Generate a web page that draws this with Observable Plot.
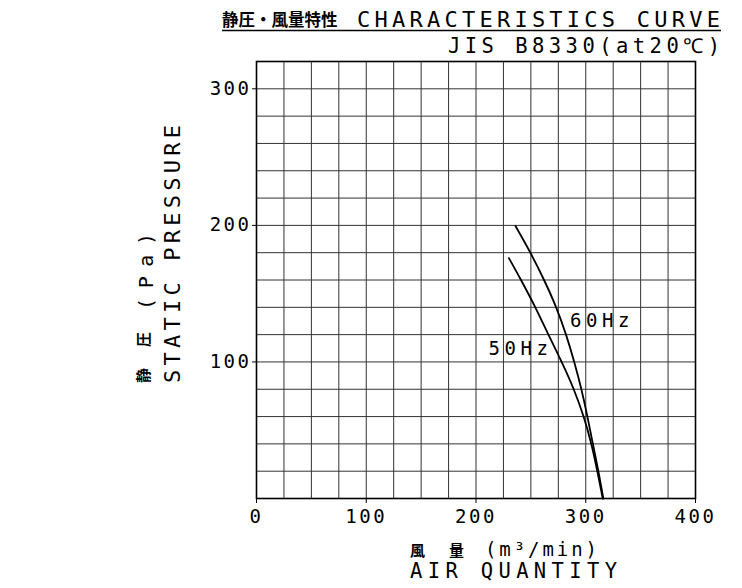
<!DOCTYPE html>
<html>
<head>
<meta charset="utf-8">
<script src="https://cdn.jsdelivr.net/npm/d3@7"></script>
<script src="https://cdn.jsdelivr.net/npm/@observablehq/plot@0.6"></script>
<style>
  html, body { margin: 0; padding: 0; background: white; }
</style>
</head>
<body>
<div id="chart"></div>
<script>
// ---- data ----
const q60 = [236, 249.5, 262, 273, 282, 289.5, 296, 301.5, 306.5, 311.5, 316];
const p60 = [199.5, 180, 160, 140, 120, 100, 80, 60, 40, 20, 0];
const q50 = [230, 241, 254, 266, 278, 289, 298, 305, 310.5, 315.5];
const p50 = [176, 160, 140, 120, 100, 80, 60, 40, 20, 0];

const labelText = ["60Hz", "50Hz"];
const labelQ = [314.8, 240.5];
const labelP = [130, 109.4];

const xTicks = [0, 100, 200, 300, 400];
const yTicks = [100, 200, 300];
const xGrid = d3.range(25, 400, 25);
const yGrid = d3.range(20, 320, 20);

const titleJa = "静圧・風量特性";
const titleEn = "CHARACTERISTICS CURVE";
const subTitle = "JIS B8330(at20℃)";
const yLabelJa = ["静", "圧"];
const yLabelUnit = "(Pa)";
const yLabelEn = "STATIC PRESSURE";
const xLabelJa = ["風", "量"];
const xLabelUnit = "(m³/min)";
const xLabelEn = "AIR QUANTITY";

// ---- build tables ----
const curve60 = q60.map((q, i) => ({q, p: p60[i]}));
const curve50 = q50.map((q, i) => ({q, p: p50[i]}));
const labels = labelText.map((t, i) => ({t, q: labelQ[i], p: labelP[i]}));

const MONO = "'DejaVu Sans Mono', monospace";
const CJK = "'Noto Sans CJK JP', sans-serif";

const chart = Plot.plot({
  width: 742,
  height: 588,
  marginLeft: 256,
  marginRight: 47,
  marginTop: 61,
  marginBottom: 90,
  style: {fontFamily: MONO, fontSize: "19px", color: "black", background: "white", letterSpacing: "2.5px"},
  x: {domain: [0, 400], ticks: xTicks, tickSize: 5, tickPadding: 6, label: null},
  y: {domain: [0, 320], ticks: yTicks, tickSize: 4, tickPadding: 1, label: null},
  marks: [
    Plot.ruleX(xGrid, {stroke: "#333", strokeWidth: 1}),
    Plot.ruleY(yGrid, {stroke: "#333", strokeWidth: 1}),
    Plot.frame({stroke: "black", strokeWidth: 1.6}),
    Plot.axisX({ticks: xTicks, tickSize: 5, tickPadding: 6, label: null}),
    Plot.axisY({ticks: yTicks, tickSize: 4, tickPadding: 1, label: null}),
    Plot.line(curve60, {x: "q", y: "p", curve: "natural", stroke: "black", strokeWidth: 1.8}),
    Plot.line(curve50, {x: "q", y: "p", curve: "natural", stroke: "black", strokeWidth: 1.8}),
    Plot.text(labels, {x: "q", y: "p", text: "t", fill: "black", fontSize: 19, className: "hzlabel"})
  ]
});

document.getElementById("chart").append(chart);

const svg = d3.select(chart);

// wider spacing + white boxes behind the Hz labels
svg.selectAll("g.hzlabel text").style("letter-spacing", "4.5px").each(function () {
  const b = this.getBBox();
  d3.select(this.parentNode).insert("rect", () => this)
    .attr("x", b.x - 4).attr("y", b.y - 1)
    .attr("width", b.width + 4).attr("height", b.height + 2)
    .attr("fill", "white");
});

// title
const g = svg.append("g").attr("fill", "black")
  .attr("text-anchor", "start").style("letter-spacing", "0px");
g.append("text").attr("x", 222).attr("y", 26)
  .attr("font-family", CJK).attr("font-weight", "bold").attr("font-size", 16.5)
  .text(titleJa);
g.append("text").attr("x", 357).attr("y", 27)
  .attr("font-family", MONO).attr("font-size", 22)
  .attr("textLength", 363).attr("lengthAdjust", "spacing")
  .text(titleEn);
g.append("line").attr("x1", 222).attr("x2", 721).attr("y1", 30.5).attr("y2", 30.5)
  .attr("stroke", "black").attr("stroke-width", 1.3);
g.append("text").attr("x", 448).attr("y", 53)
  .attr("font-family", MONO).attr("font-size", 20.5)
  .attr("textLength", 272).attr("lengthAdjust", "spacing")
  .text(subTitle);

// y label (rotated)
const gy = g.append("g").attr("transform", "translate(0,383) rotate(-90)");
gy.append("text").attr("x", 0).attr("y", 149)
  .attr("font-family", CJK).attr("font-weight", "bold").attr("font-size", 15)
  .text(yLabelJa[0]);
gy.append("text").attr("x", 36).attr("y", 149)
  .attr("font-family", CJK).attr("font-weight", "bold").attr("font-size", 15)
  .text(yLabelJa[1]);
gy.append("text").attr("x", 73).attr("y", 153)
  .attr("font-family", MONO).attr("font-size", 20)
  .attr("textLength", 77).attr("lengthAdjust", "spacing")
  .text(yLabelUnit);
gy.append("text").attr("x", 0).attr("y", 180)
  .attr("font-family", MONO).attr("font-size", 22)
  .attr("textLength", 258).attr("lengthAdjust", "spacing")
  .text(yLabelEn);

// x label
g.append("text").attr("x", 410).attr("y", 556)
  .attr("font-family", CJK).attr("font-weight", "bold").attr("font-size", 15)
  .text(xLabelJa[0]);
g.append("text").attr("x", 449).attr("y", 556)
  .attr("font-family", CJK).attr("font-weight", "bold").attr("font-size", 15)
  .text(xLabelJa[1]);
g.append("text").attr("x", 485).attr("y", 556)
  .attr("font-family", MONO).attr("font-size", 19)
  .attr("textLength", 112).attr("lengthAdjust", "spacing")
  .text(xLabelUnit);
g.append("text").attr("x", 410).attr("y", 578)
  .attr("font-family", MONO).attr("font-size", 20.5)
  .attr("textLength", 207).attr("lengthAdjust", "spacing")
  .text(xLabelEn);
</script>
</body>
</html>
